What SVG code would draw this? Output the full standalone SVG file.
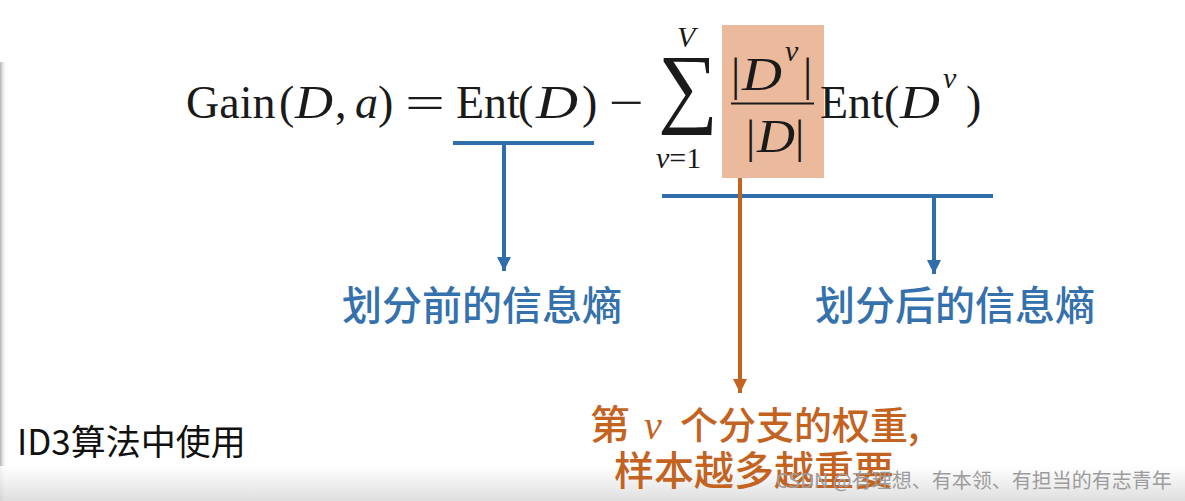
<svg xmlns="http://www.w3.org/2000/svg" width="1185" height="501" viewBox="0 0 1185 501">
<defs>
<linearGradient id="bottomFade" x1="0" y1="0" x2="0" y2="1">
<stop offset="0" stop-color="#ffffff"/>
<stop offset="1" stop-color="#d9d9d9"/>
</linearGradient>
<linearGradient id="leftFade" x1="0" y1="0" x2="1" y2="0">
<stop offset="0" stop-color="#b0b0b0"/>
<stop offset="1" stop-color="#ffffff" stop-opacity="0"/>
</linearGradient>
<marker id="arrBlue" viewBox="0 0 14 14" refX="14" refY="7" markerWidth="14" markerHeight="14" markerUnits="userSpaceOnUse" orient="auto">
<path d="M0 0 L14 7 L0 14 Z" fill="#2f6eab"/>
</marker>
<marker id="arrOrange" viewBox="0 0 14 14" refX="14" refY="7" markerWidth="14" markerHeight="14" markerUnits="userSpaceOnUse" orient="auto">
<path d="M0 0 L14 7 L0 14 Z" fill="#c4621f"/>
</marker>
<style>
.m{font-family:"Liberation Serif","DejaVu Serif",serif;fill:#1a1a1a;font-size:46px}
.i{font-style:italic}
.s{font-size:30px}
.big{font-size:89px}
.blue{font-family:"Noto Sans CJK SC","Noto Sans",sans-serif;font-size:40px;font-weight:500;fill:#3471ad}
.orange{font-family:"Noto Sans CJK SC","Noto Sans",sans-serif;font-size:40px;font-weight:500;fill:#c4621f}
.o38{font-size:38px}
.orv{font-family:"Liberation Serif",serif;font-style:italic;font-size:40px;fill:#c4621f}
.note{font-family:"Noto Sans CJK SC","Noto Sans",sans-serif;font-size:35px;fill:#111}
.wm{font-family:"Noto Sans CJK SC","Noto Sans",sans-serif;font-size:20px;fill:#9c9c9c}
.lb{stroke:#2f6eab;stroke-width:4;fill:none}
.lo{stroke:#c4621f;stroke-width:4;fill:none}
</style>
</defs>
<rect width="1185" height="501" fill="#ffffff"/>
<rect x="0" y="62" width="7" height="439" fill="url(#leftFade)"/>
<rect x="0" y="466" width="1185" height="35" fill="url(#bottomFade)" opacity="0.85"/>

<g id="weight-box">
<rect x="722" y="25" width="102" height="153" fill="#ebb99b"/>
</g>

<g id="formula">
<text class="m" x="186" y="118">Gain</text>
<text class="m" x="279" y="118">(</text>
<text class="m i" x="295" y="118" textLength="38" lengthAdjust="spacingAndGlyphs">D</text>
<text class="m" x="335" y="118">,</text>
<text class="m i" x="355" y="118">a</text>
<text class="m" x="378" y="118">)</text>
<text class="m" x="405" y="118" textLength="40" lengthAdjust="spacingAndGlyphs">=</text>
<text class="m" x="456" y="118">Ent</text>
<text class="m" x="518" y="118">(</text>
<text class="m i" x="536" y="118" textLength="42" lengthAdjust="spacingAndGlyphs">D</text>
<text class="m" x="582" y="118">)</text>
<text class="m" x="609" y="118" textLength="35" lengthAdjust="spacingAndGlyphs">−</text>
<text class="m i s" x="677" y="47">V</text>
<text class="m big" x="658" y="116" textLength="60" lengthAdjust="spacingAndGlyphs">∑</text>
<text class="m s" x="656" y="168"><tspan class="i">v</tspan>=1</text>
<text class="m" x="731" y="90">|</text>
<text class="m i" x="742" y="90" textLength="40" lengthAdjust="spacingAndGlyphs">D</text>
<text class="m i s" x="785" y="61">v</text>
<text class="m" x="803" y="90">|</text>
<line x1="731" y1="103.5" x2="814" y2="103.5" stroke="#1a1a1a" stroke-width="2"/>
<text class="m" x="746" y="152">|</text>
<text class="m i" x="757" y="152" textLength="38" lengthAdjust="spacingAndGlyphs">D</text>
<text class="m" x="795" y="152">|</text>
<text class="m" x="820" y="118">Ent</text>
<text class="m" x="884" y="118">(</text>
<text class="m i" x="900" y="118" textLength="40" lengthAdjust="spacingAndGlyphs">D</text>
<text class="m i s" x="943" y="88">v</text>
<text class="m" x="966" y="118">)</text>
</g>

<g id="connectors">
<line class="lb" x1="453" y1="143" x2="594" y2="143"/>
<line class="lb" x1="504" y1="143" x2="504" y2="271" marker-end="url(#arrBlue)"/>
<line class="lb" x1="662" y1="196" x2="993" y2="196"/>
<line class="lb" x1="934" y1="196" x2="934" y2="274" marker-end="url(#arrBlue)"/>
<line class="lo" x1="740" y1="178" x2="740" y2="393" marker-end="url(#arrOrange)"/>
</g>

<g id="label-before">
<text class="blue" x="342" y="320">划分前的信息熵</text>
</g>
<g id="label-after">
<text class="blue" x="815" y="320">划分后的信息熵</text>
</g>
<g id="label-weight">
<text class="orange" x="590" y="439">第</text>
<text class="orv" x="644" y="439">v</text>
<text class="orange o38" x="680" y="439">个分支的权重,</text>
<text class="orange" x="614" y="485">样本越多越重要</text>
</g>
<g id="note">
<text class="note" x="17" y="455">ID3算法中使用</text>
</g>

<text class="wm" x="776" y="488">CSDN @有理想、有本领、有担当的有志青年</text>
</svg>
